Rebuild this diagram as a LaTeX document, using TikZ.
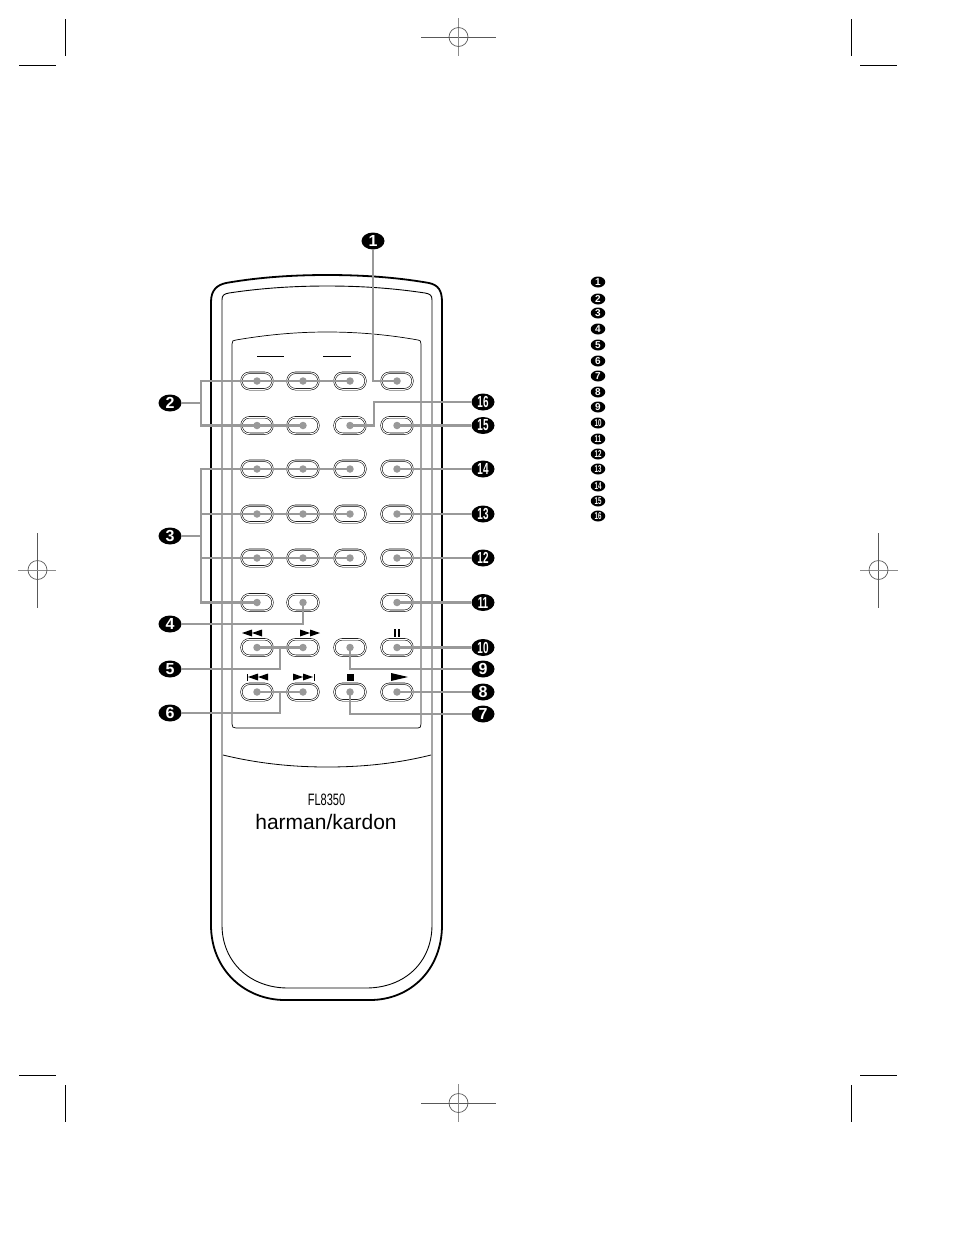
\documentclass[tikz,border=0pt]{standalone}
\usepackage{fontspec}
\usetikzlibrary{shapes.geometric}
\setmainfont{Liberation Sans}
\setsansfont{Liberation Sans}
\definecolor{leadgray}{gray}{.6}
\newcommand{\tight}[1]{\scalebox{.62}[1]{#1}}
\begin{document}
\begin{tikzpicture}[x=1pt,y=-1pt,
bigmark/.style={ellipse,fill=black,text=white,inner sep=0pt,minimum width=23pt,minimum height=17pt,font=\sffamily\bfseries\fontsize{16}{16}\selectfont},
smallmark/.style={ellipse,fill=black,text=white,inner sep=0pt,minimum width=14.5pt,minimum height=11pt,font=\sffamily\bfseries\fontsize{10}{10}\selectfont},
btn/.style={draw,rectangle,rounded corners=8pt,line width=.55pt,double,double distance=1pt,minimum width=31pt,minimum height=16.5pt,inner sep=0pt},
lead/.style={draw=leadgray,line width=2.6pt},
dot/.style={circle,fill=leadgray,inner sep=0pt,minimum size=7.5pt},
crop/.style={line width=.8pt},
regline/.style={line width=.7pt,draw=black!65},
regfaint/.style={line width=.6pt,draw=black!45}]
\useasboundingbox(0,0)rectangle(954,1235);
%crop marks
\draw[crop](65,19)--(65,56);
\draw[crop](19,65)--(56,65);
\draw[crop](851,19)--(851,56);
\draw[crop](860,65)--(897,65);
\draw[crop](65,1085)--(65,1122);
\draw[crop](19,1075)--(56,1075);
\draw[crop](851,1085)--(851,1122);
\draw[crop](860,1075)--(897,1075);
%registration marks
\draw[regline](421,37)--(496,37);
\draw[regfaint](458.5,18)--(458.5,56);
\draw[regline](458.5,37)circle(9.5);
\draw[regline](421,1103)--(496,1103);
\draw[regfaint](458.5,1084)--(458.5,1122);
\draw[regline](458.5,1103)circle(9.5);
\draw[regline](37.5,533)--(37.5,608);
\draw[regfaint](18,570)--(56,570);
\draw[regline](37.5,570)circle(9.5);
\draw[regline](878.5,533)--(878.5,608);
\draw[regfaint](860,570)--(898,570);
\draw[regline](878.5,570)circle(9.5);
%body of the remote
\draw[line width=1.8pt](211,925)--(211,302) .. controls (211,290) and (217,285) .. (226,283) .. controls (260,277) and (295,275) .. (327,275) .. controls (360,275) and (395,277) .. (429,283) .. controls (438,285) and (442,290) .. (442,302)--(442,925) .. controls (442,970) and (410,1000) .. (370,1000)--(285,1000) .. controls (245,1000) and (211,970) .. (211,925)--cycle;
\draw[line width=.9pt](222,925)--(222,300) .. controls (222,295) and (224,294) .. (229,293) .. controls (262,288) and (295,286) .. (327,286) .. controls (360,286) and (392,288) .. (425,293) .. controls (430,294) and (432,295) .. (432,300)--(432,925) .. controls (432,962) and (405,988) .. (366,988)--(288,988) .. controls (250,988) and (222,962) .. (222,925)--cycle;
\draw[line width=.7pt](232,724)--(232,344) .. controls (232,341) and (233,340) .. (236,340) .. controls (265,335) and (295,332) .. (327,332) .. controls (360,332) and (390,335) .. (418,340) .. controls (420,340) and (421,341) .. (421,344)--(421,724) .. controls (421,727) and (420,728) .. (418,728)--(236,728) .. controls (233,728) and (232,727) .. (232,724);
\draw[line width=.8pt](223,755) .. controls (260,764) and (295,767) .. (327,767) .. controls (360,767) and (395,764) .. (431,755);
\draw[line width=.8pt](257,356)--(284,356);
\draw[line width=.8pt](323,356)--(351,356);
%symbols over the keys
\fill(242,633)--(252,629.5)--(252,636.5)--cycle;
\fill(252,633)--(262,629.5)--(262,636.5)--cycle;
\fill(310,633)--(300,629.5)--(300,636.5)--cycle;
\fill(320,633)--(310,629.5)--(310,636.5)--cycle;
\fill(394,629)rectangle(396,636.5);
\fill(398,629)rectangle(400,636.5);
\fill(246.5,673.5)rectangle(247.5,680.5);
\fill(248,677)--(258,673.5)--(258,680.5)--cycle;
\fill(258,677)--(268,673.5)--(268,680.5)--cycle;
\fill(303,677)--(293,673.5)--(293,680.5)--cycle;
\fill(313,677)--(303,673.5)--(303,680.5)--cycle;
\fill(314,673.5)rectangle(315,680.5);
\fill(347,674)rectangle(354,681);
\fill(408,677)--(391,673)--(391,681)--cycle;
%keys
\node[btn](b11)at(257,381){};
\node[btn](b12)at(303,381){};
\node[btn](b13)at(350,381){};
\node[btn](b14)at(397,381){};
\node[btn](b21)at(257,425.5){};
\node[btn](b22)at(303,425.5){};
\node[btn](b23)at(350,425.5){};
\node[btn](b24)at(397,425.5){};
\node[btn](b31)at(257,469){};
\node[btn](b32)at(303,469){};
\node[btn](b33)at(350,469){};
\node[btn](b34)at(397,469){};
\node[btn](b41)at(257,514){};
\node[btn](b42)at(303,514){};
\node[btn](b43)at(350,514){};
\node[btn](b44)at(397,514){};
\node[btn](b51)at(257,558){};
\node[btn](b52)at(303,558){};
\node[btn](b53)at(350,558){};
\node[btn](b54)at(397,558){};
\node[btn](b61)at(257,602.5){};
\node[btn](b62)at(303,602.5){};
\node[btn](b64)at(397,602.5){};
\node[btn](b71)at(257,647.5){};
\node[btn](b72)at(303,647.5){};
\node[btn](b73)at(350,647.5){};
\node[btn](b74)at(397,647.5){};
\node[btn](b81)at(257,692){};
\node[btn](b82)at(303,692){};
\node[btn](b83)at(350,692){};
\node[btn](b84)at(397,692){};
%callouts
\node[bigmark](c1)at(373,241){1};
\node[bigmark](c2)at(170,403){2};
\node[bigmark](c3)at(170,536){3};
\node[bigmark](c4)at(170,624){4};
\node[bigmark](c5)at(170,669){5};
\node[bigmark](c6)at(170,713){6};
\node[bigmark](c7)at(483,714){7};
\node[bigmark](c8)at(483,692){8};
\node[bigmark](c9)at(483,669){9};
\node[bigmark](c10)at(483,647.5){\tight{10}};
\node[bigmark](c11)at(483,602.5){\tight{11}};
\node[bigmark](c12)at(483,558){\tight{12}};
\node[bigmark](c13)at(483,514){\tight{13}};
\node[bigmark](c14)at(483,469){\tight{14}};
\node[bigmark](c15)at(483,425.5){\tight{15}};
\node[bigmark](c16)at(483,402){\tight{16}};
\coordinate(j2)at(201,403);
\coordinate(j3)at(201,536);
\coordinate(j5)at(280,647.5);
\coordinate(j6)at(280,692);
\coordinate(j16)at(374,402);
%leaders
\draw[lead](c1)|-(b14.center);
\draw[lead](c2)--(j2);
\draw[lead](b13.center)-|(j2)|-(b22.center);
\draw[lead](c3)--(j3);
\draw[lead](b33.center)-|(j3)|-(b61.center);
\draw[lead](b43.center)-|(j3);
\draw[lead](b53.center)-|(j3);
\draw[lead](c4)-|(b62.center);
\draw[lead](c5)-|(j5);
\draw[lead](b71.center)--(b72.center);
\draw[lead](c6)-|(j6);
\draw[lead](b81.center)--(b82.center);
\draw[lead](c7)-|(b83.center);
\draw[lead](c8)--(b84.center);
\draw[lead](c9)-|(b73.center);
\draw[lead](c10)--(b74.center);
\draw[lead](c11)--(b64.center);
\draw[lead](c12)--(b54.center);
\draw[lead](c13)--(b44.center);
\draw[lead](c14)--(b34.center);
\draw[lead](c15)--(b24.center);
\draw[lead](c16)--(j16)|-(b23.center);
%dots on the keys
\node[dot](d11)at(b11){};
\node[dot](d12)at(b12){};
\node[dot](d13)at(b13){};
\node[dot](d14)at(b14){};
\node[dot](d21)at(b21){};
\node[dot](d22)at(b22){};
\node[dot](d23)at(b23){};
\node[dot](d24)at(b24){};
\node[dot](d31)at(b31){};
\node[dot](d32)at(b32){};
\node[dot](d33)at(b33){};
\node[dot](d34)at(b34){};
\node[dot](d41)at(b41){};
\node[dot](d42)at(b42){};
\node[dot](d43)at(b43){};
\node[dot](d44)at(b44){};
\node[dot](d51)at(b51){};
\node[dot](d52)at(b52){};
\node[dot](d53)at(b53){};
\node[dot](d54)at(b54){};
\node[dot](d61)at(b61){};
\node[dot](d62)at(b62){};
\node[dot](d64)at(b64){};
\node[dot](d71)at(b71){};
\node[dot](d72)at(b72){};
\node[dot](d73)at(b73){};
\node[dot](d74)at(b74){};
\node[dot](d81)at(b81){};
\node[dot](d82)at(b82){};
\node[dot](d83)at(b83){};
\node[dot](d84)at(b84){};
%name plate
\node[inner sep=0pt,font=\fontsize{16.5}{16.5}\selectfont](model)at(326.5,800){\scalebox{.67}[1]{FL8350}};
\node[inner sep=0pt,font=\fontsize{21}{21}\selectfont](brand)at(326,822){harman/kardon};
%list at the right
\node[smallmark](l1)at(598,282){1};
\node[smallmark](l2)at(598,299){2};
\node[smallmark](l3)at(598,313){3};
\node[smallmark](l4)at(598,329){4};
\node[smallmark](l5)at(598,345){5};
\node[smallmark](l6)at(598,361){6};
\node[smallmark](l7)at(598,376){7};
\node[smallmark](l8)at(598,392){8};
\node[smallmark](l9)at(598,407){9};
\node[smallmark](l10)at(598,423){\tight{10}};
\node[smallmark](l11)at(598,439){\tight{11}};
\node[smallmark](l12)at(598,454){\tight{12}};
\node[smallmark](l13)at(598,469){\tight{13}};
\node[smallmark](l14)at(598,486){\tight{14}};
\node[smallmark](l15)at(598,501){\tight{15}};
\node[smallmark](l16)at(598,516){\tight{16}};
\end{tikzpicture}
\end{document}
